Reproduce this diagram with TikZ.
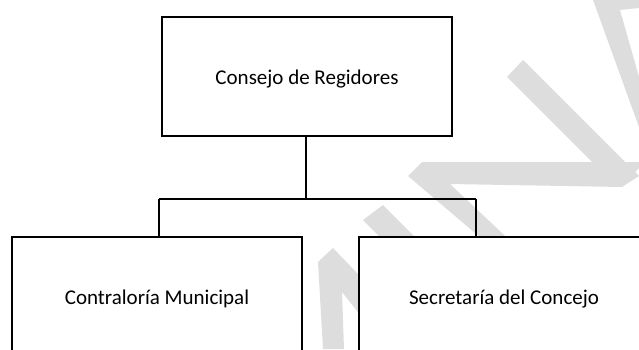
\documentclass[tikz,border=0pt]{standalone}
\usepackage{fontspec}
\setmainfont{Carlito}
\usepackage{tikz}
\definecolor{wmark}{RGB}{221,221,221}

\begin{document}
\begin{tikzpicture}[x=1pt, y=-1pt]
\tikzstyle{unit} = [rectangle, draw = black, line width = 1.3pt, fill = white, minimum width = 290pt, minimum height = 119pt, text height = 20pt, text depth = 4.5pt, font = \fontsize{21}{25}\selectfont]
\tikzstyle{link} = [line width = 1.1pt]
\tikzstyle{wfill} = [fill = wmark]
\useasboundingbox (0,0) rectangle (639,349);
% watermark behind the chart
\fill[wfill] (593,0) -- (639,0) -- (639,8) -- (620,10) -- (639,77) -- (639,127) -- cycle;
\fill[wfill] (507,77) -- (523,60) -- (639,176) -- (622,187) -- (593,163) -- cycle;
\fill[wfill] (408,176) -- (422,162) -- (639,162) -- (639,168) -- (622,187) -- (450,184) -- (520,250) -- (495,250) -- cycle;
\fill[wfill] (383,205) -- (430,252) -- (405,262) -- (363,220) -- cycle;
\fill[wfill] (318,262) -- (333,248) -- (380,297) -- (380,340) -- (342,292) -- (344,349) -- (323,349) -- cycle;
% boxes
\node[unit] (consejo) at (307,76.5) {Consejo de Regidores};
\node[unit] (contra) at (157,296.5) {Contraloría Municipal};
\node[unit] (secre) at (504,296.5) {Secretaría del Concejo};
\coordinate (split) at (306,199);
\coordinate (bl) at (159,199);
\coordinate (br) at (476,199);
\coordinate (heavy) at (387,199);
\draw[link] (consejo.south -| split) -- (split);
\draw[link] (bl) -- (br);
\draw[link, line width = 2.2pt] (heavy) -- (br);
\draw[link] (bl) -- (bl |- contra.north);
\draw[link] (br) -- (br |- secre.north);
\end{tikzpicture}
\end{document}
